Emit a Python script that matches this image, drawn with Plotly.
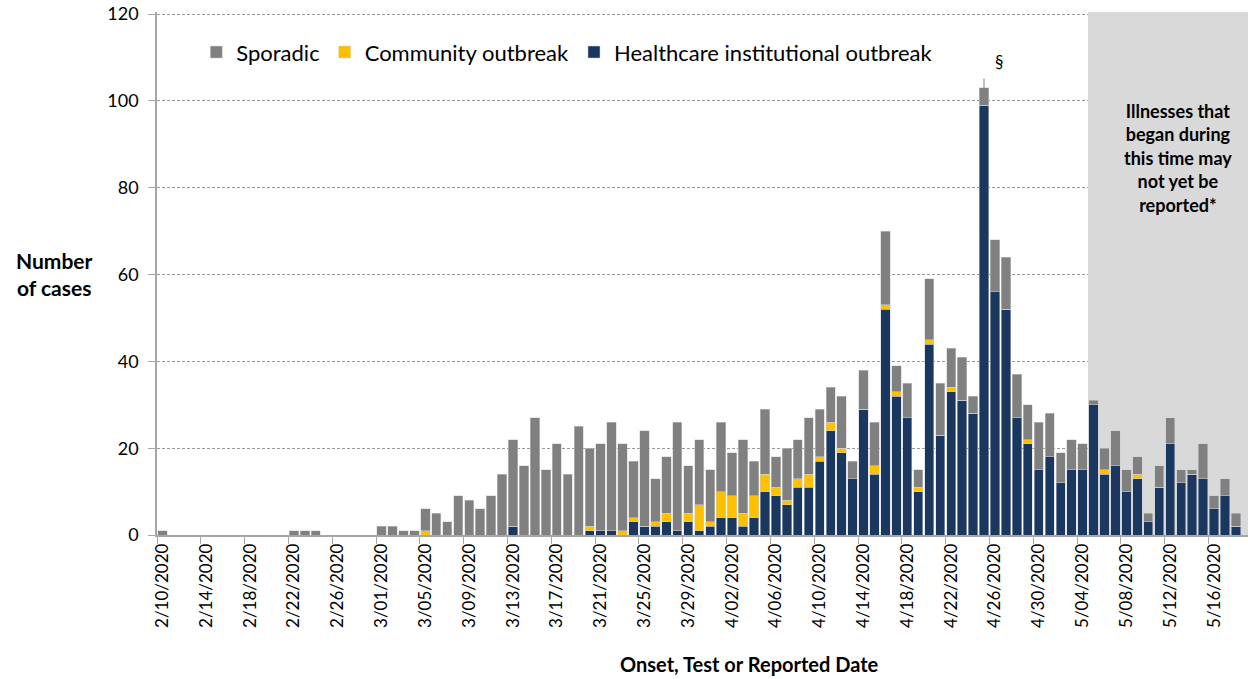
import pandas as pd
import plotly.graph_objects as go

# Onset dates (one bar per day)
start_date = "2020-02-10"
healthcare = [0,0,0,0,0,0,0,0,0,0, 0,0,0,0,0,0,0,0,0,0,
              0,0,0,0,0,0,0,0,0,0, 0,0,2,0,0,0,0,0,0,1,
              1,1,0,3,2,2,3,1,3,1, 2,4,4,2,4,10,9,7,11,11,
              17,24,19,13,29,14,52,32,27,10, 44,23,33,31,28,99,56,52,27,21,
              15,18,12,15,15,30,14,16,10,13, 3,11,21,12,14,13,6,9,2]
community = [0,0,0,0,0,0,0,0,0,0, 0,0,0,0,0,0,0,0,0,0,
             0,0,0,0,1,0,0,0,0,0, 0,0,0,0,0,0,0,0,0,1,
             0,0,1,1,0,1,2,0,2,6, 1,6,5,3,5,4,2,1,2,3,
             1,2,1,0,0,2,1,1,0,1, 1,0,1,0,0,0,0,0,0,1,
             0,0,0,0,0,0,1,0,0,1, 0,0,0,0,0,0,0,0,0]
sporadic = [1,0,0,0,0,0,0,0,0,0, 0,0,1,1,1,0,0,0,0,0,
            2,2,1,1,5,5,3,9,8,6, 9,14,20,16,27,15,21,14,25,18,
            20,25,20,13,22,10,13,25,11,15, 12,16,10,17,8,15,7,12,9,13,
            11,8,12,4,9,10,17,6,8,4, 14,12,9,10,4,4,12,12,10,8,
            11,10,7,7,6,1,5,8,5,4, 2,5,6,3,1,8,3,4,3]

dates = pd.date_range(start_date, periods=len(healthcare), freq="D")

# Reporting-lag window and axis settings
lag_start = "2020-05-04 12:00"
x_range = ["2020-02-09 12:00", "2020-05-19 02:24"]
y_range = [0, 120.5]
y_ticks = [0, 20, 40, 60, 80, 100, 120]
peak_date = "2020-04-25"
peak_total = 103

NAVY = "#19375F"
YELLOW = "#FFC000"
GRAY = "#808080"
FONT = "Lato, 'Open Sans', sans-serif"

fig = go.Figure()
line = dict(color="#D0D0D0", width=0.5)
fig.add_trace(go.Bar(x=dates, y=healthcare, name="Healthcare institutional outbreak",
                     marker=dict(color=NAVY, line=line)))
fig.add_trace(go.Bar(x=dates, y=community, name="Community outbreak",
                     marker=dict(color=YELLOW, line=line)))
fig.add_trace(go.Bar(x=dates, y=sporadic, name="Sporadic",
                     marker=dict(color=GRAY, line=line)))

fig.add_shape(type="rect", xref="x", yref="y", x0=lag_start, x1=x_range[1],
              y0=0, y1=y_range[1], fillcolor="#D9D9D9", line=dict(width=0), layer="between")

fig.update_layout(
    width=1248, height=679,
    barmode="stack", bargap=0.15,
    plot_bgcolor="white", paper_bgcolor="white",
    margin=dict(l=157, r=0, t=12, b=144),
    font=dict(family=FONT, color="#000000"),
    showlegend=True,
    legend=dict(orientation="h", traceorder="reversed", x=0.036, y=0.923,
                xanchor="left", yanchor="middle", font=dict(size=22, family=FONT),
                bgcolor="rgba(0,0,0,0)", itemclick=False),
)

fig.update_xaxes(
    type="date", range=x_range,
    tick0=start_date, dtick=4 * 86400000, tickformat="%-m/%d/%Y",
    tickangle=-90, tickfont=dict(size=17, family=FONT),
    ticks="", showgrid=False, zeroline=False,
    showline=True, linecolor="#A6A6A6", linewidth=1.5,
    minor=dict(tick0="2020-02-09 12:00", dtick=4 * 86400000, ticks="outside",
               ticklen=7, tickcolor="#A6A6A6", showgrid=False),
)
fig.update_yaxes(
    range=y_range, tickvals=y_ticks, tickfont=dict(size=18, family=FONT),
    ticks="outside", ticklen=7, tickcolor="#A6A6A6", ticklabelstandoff=6,
    showgrid=True, gridcolor="#9A9A9A", griddash="3px,2px", gridwidth=1,
    zeroline=False, showline=True, linecolor="#A6A6A6", linewidth=1.5,
)

fig.add_annotation(xref="paper", yref="paper", x=-0.0935, y=0.499,
                   text="<b>Number<br>of cases</b>", showarrow=False,
                   xanchor="center", yanchor="middle", align="center",
                   font=dict(size=21, family=FONT))
fig.add_annotation(xref="paper", yref="paper", x=0.5435, y=-0.2457,
                   text="<b>Onset, Test or Reported Date</b>", showarrow=False,
                   xanchor="center", yanchor="middle",
                   font=dict(size=20, family=FONT))
fig.add_annotation(xref="paper", yref="paper", x=0.936, y=0.835,
                   text="<b>Illnesses that<br>began during<br>this time may<br>not yet be<br>reported*</b>",
                   showarrow=False, xanchor="center", yanchor="top", align="center",
                   font=dict(size=18, family=FONT))
fig.add_annotation(x=peak_date, y=peak_total, text="", showarrow=True,
                   arrowhead=0, arrowwidth=1, arrowcolor="#808080", ax=0, ay=-11)
fig.add_annotation(x=peak_date, y=peak_total, text="§", showarrow=False,
                   xshift=15, yshift=26, font=dict(size=17, family=FONT))

# remove the default 8px page margin so the figure sits at the window origin
fig.write_html("out.html", config={"displayModeBar": False},
               post_script="document.body.style.margin='0';")
